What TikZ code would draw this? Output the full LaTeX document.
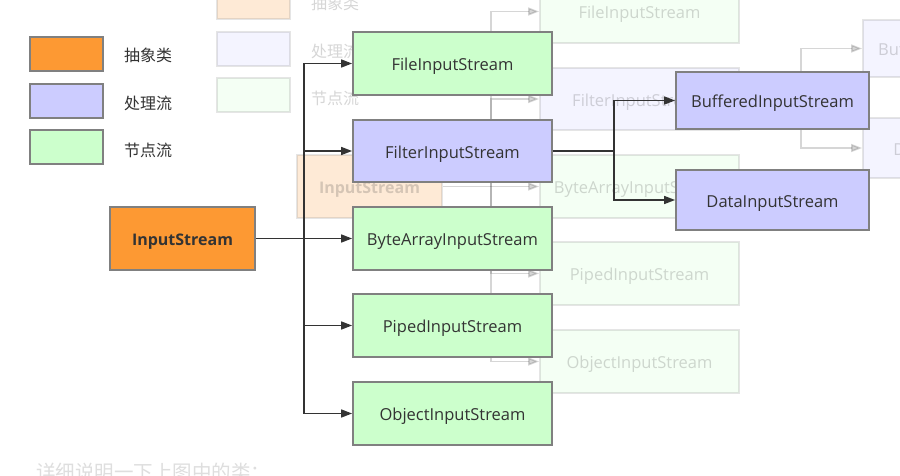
\documentclass[tikz,border=0pt]{standalone}
\usepackage{fontspec}
\setmainfont{Open Sans}
\newfontfamily\cjk{Noto Sans CJK SC}
\usetikzlibrary{arrows.meta}
\definecolor{absfill}{RGB}{253,153,51}
\definecolor{procfill}{RGB}{204,204,255}
\definecolor{nodefill}{RGB}{204,255,204}
\definecolor{boxline}{RGB}{128,128,128}
\definecolor{txt}{RGB}{51,51,51}
\definecolor{wire}{RGB}{51,51,51}
\definecolor{notetxt}{RGB}{222,222,222}
\tikzset{
 box/.style={draw=boxline, line width=1.8pt, minimum width=199pt, minimum height=63pt, inner sep=0pt, text=txt, text height=16pt, text depth=1.6pt, font=\fontsize{16.5}{19}\selectfont},
 absbox/.style={box, fill=absfill, minimum width=145pt, font=\fontsize{16}{19}\selectfont\bfseries},
 procbox/.style={box, fill=procfill},
 leafbox/.style={box, fill=nodefill},
 legbox/.style={draw=boxline, line width=1.8pt, minimum width=73pt, minimum height=34pt, inner sep=0pt},
 leglabel/.style={text=txt, font=\cjk\fontsize{16}{19}\selectfont, inner sep=0pt},
 wireline/.style={draw=wire, line width=1.6pt},
 arrowline/.style={wireline, -{Triangle[length=11pt,width=8pt]}},
}
\newcommand\IOdiagram{%
 \node[legbox, fill=absfill] (legA) at (66.5,54) {};
 \node[leglabel] (legAt) at (148,55) {抽象类};
 \node[legbox, fill=procfill] (legP) at (66.5,101) {};
 \node[leglabel] (legPt) at (148,103) {处理流};
 \node[legbox, fill=nodefill] (legN) at (66.5,147) {};
 \node[leglabel] (legNt) at (148,150) {节点流};
 \node[absbox] (IS) at (182.5,238.5) {InputStream};
 \node[leafbox] (File) at (452.5,63.5) {FileInputStream};
 \node[procbox, minimum height=62pt] (Filter) at (452.5,151) {FilterInputStream};
 \node[leafbox] (Byte) at (452.5,238.5) {ByteArrayInputStream};
 \node[leafbox] (Piped) at (452.5,325.5) {PipedInputStream};
 \node[leafbox] (Object) at (452.5,413.5) {ObjectInputStream};
 \node[procbox, minimum width=193pt, minimum height=57pt] (Buf) at (772.5,100.5) {BufferedInputStream};
 \node[procbox, minimum width=193pt, minimum height=60pt] (Data) at (772.5,200) {DataInputStream};
 \coordinate (j1) at (304,238.5);
 \coordinate (j2) at (614,151);
 \draw[arrowline] (IS) -- (Byte);
 \draw[arrowline] (j1) |- (File);
 \draw[arrowline] (j1) |- (Filter);
 \draw[arrowline] (j1) |- (Piped);
 \draw[arrowline] (j1) |- (Object);
 \draw[wireline] (Filter) -- (j2);
 \draw[arrowline] (j2) |- (Buf);
 \draw[arrowline] (j2) |- (Data);
}
\begin{document}
\begin{tikzpicture}[x=1pt,y=-1pt]
 \useasboundingbox (0,0) rectangle (900,476);
 \fill[white] (0,0) rectangle (900,476);
 \clip (0,0) rectangle (900,476);
 \begin{scope}[shift={(187,-52)}, name prefix=g-, opacity=0.2]
  \IOdiagram
 \end{scope}
 \IOdiagram
 \node[anchor=base west, inner sep=0pt, text=notetxt, font=\cjk\fontsize{19.5}{22}\selectfont] (note) at (36,479) {详细说明一下上图中的类：};
\end{tikzpicture}
\end{document}
